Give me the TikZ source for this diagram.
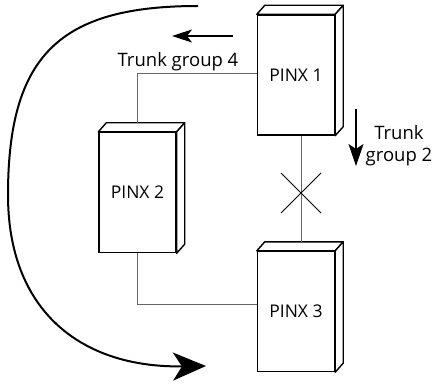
\documentclass[tikz,border=0pt]{standalone}
\usepackage{fontspec}
\setmainfont{Open Sans}
\usetikzlibrary{arrows.meta}
\begin{document}
\begin{tikzpicture}[x=1pt,y=-1pt,
  pinx/.style={draw=black,line width=1.4pt,fill=white,minimum width=77pt,minimum height=120pt,inner sep=0pt,font=\fontsize{17.5}{20}\selectfont},
  face/.style={draw=black,line width=1.4pt,line join=round,fill=white},
  link/.style={draw=black!60,line width=0.9pt},
  lbl/.style={font=\fontsize{18.5}{22}\selectfont,inner sep=0pt}]
\useasboundingbox (0,0) rectangle (436,385);
% boxes
\node[pinx] (p1) at (296,75) {PINX 1};
\node[pinx] (p2) at (137.5,192.5) {PINX 2};
\node[pinx] (p3) at (296,311.5) {PINX 3};
\foreach \n in {p1,p2,p3}{
  \draw[face] (\n.north west) -- ++(8,-9) -- ([shift={(8,-9)}]\n.north east) -- (\n.north east) -- cycle;
  \draw[face] (\n.north east) -- ++(8,-9) -- ([shift={(8,-9)}]\n.south east) -- (\n.south east) -- cycle;
}
% connectors
\coordinate (p2top) at ([shift={(0,-9)}]p2.north);
\coordinate (p3top) at ([shift={(5,-9)}]p3.north);
\draw[link] (p2top) |- (p1.west |- 0,73);
\draw[link] (p2.south) |- (p3.west |- 0,304);
\draw[link] ([xshift=5pt]p1.south) -- (p3top);
% cross
\coordinate (x) at (301,193);
\draw[black,line width=1pt] ([shift={(-20,-20)}]x) -- ([shift={(20,20)}]x)
      ([shift={(-20,20)}]x) -- ([shift={(20,-20)}]x);
% trunk group 4
\coordinate (a4s) at (233,36);
\coordinate (a4e) at (172,36);
\draw[line width=1.2pt,-{Stealth[length=20pt,width=13pt,inset=5pt]}] (a4s) -- (a4e);
\node[lbl,anchor=base] (t4) at (178,67) {Trunk group 4};
% trunk group 2
\coordinate (a2s) at (356,109);
\coordinate (a2e) at (356,166);
\draw[line width=1.2pt,-{Stealth[length=22pt,width=15pt,inset=5pt]}] (a2s) -- (a2e);
\node[lbl,align=center] (t2) at (399,146) {Trunk\\group 2};
% big curve
\coordinate (cs) at (198,6);
\coordinate (cm) at (8,195);
\coordinate (ce) at (206,366);
\draw[line width=2pt,-{Stealth[length=33pt,width=28pt,inset=9pt]}] (cs) .. controls (60,6) and (8,55) .. (cm) .. controls (8,310) and (80,368) .. (ce);
\end{tikzpicture}
\end{document}
